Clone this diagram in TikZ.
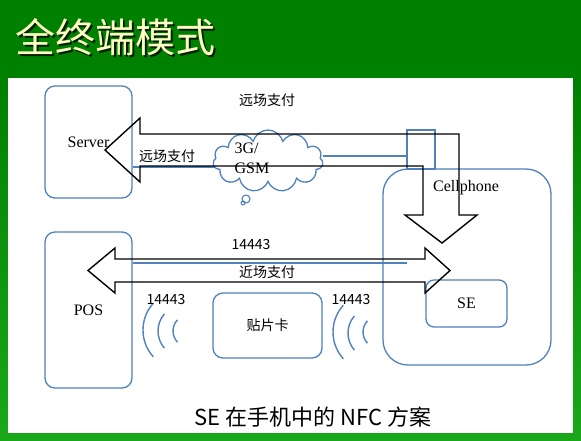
\documentclass[tikz,border=0pt]{standalone}
\usepackage{fontspec}
\setmainfont{Liberation Serif}
\newfontfamily\cjk{Noto Sans CJK SC}
\usetikzlibrary{shapes.symbols}
\definecolor{boxblue}{RGB}{79,129,189}
\definecolor{titlecream}{RGB}{255,255,196}
\definecolor{bgdark}{RGB}{0,128,0}
\definecolor{bglight}{RGB}{26,168,26}
\begin{document}
\begin{tikzpicture}[x=1pt,y=-1pt,
  box/.style={draw=boxblue,line width=1.3pt,rounded corners=10pt,inner sep=0pt},
  wire/.style={draw=boxblue,line width=1.3pt},
  blockarrow/.style={draw=black,line width=1.4pt,line join=miter},
  wave/.style={draw=boxblue,line width=1.4pt},
  latin/.style={font=\fontsize{16}{20}\selectfont},
  han/.style={font=\cjk\fontsize{14}{14}\selectfont}]
\useasboundingbox (0,0) rectangle (581,440);
% background and slide title
\fill[bgdark] (0,0) rectangle (581,440);
\shade[top color=bgdark,bottom color=bglight] (0,80) rectangle (581,440);
\fill[white] (8,78) rectangle (573,433);
\node[font=\cjk\fontsize{40}{40}\selectfont,text=titlecream] (title) at (115,38)
  {\makebox[0pt][l]{\hspace{2pt}\raisebox{-2pt}{\color{black!75!bgdark}全终端模式}}全终端模式};
% boxes
\node[box,latin,minimum width=87pt,minimum height=112pt] (server) at (88.5,142) {Server};
\node[box,latin,minimum width=87pt,minimum height=156pt] (pos) at (88.5,310) {POS};
\node[box,han,minimum width=109pt,minimum height=65pt] (card) at (267.5,325.5) {贴片卡};
\node[box,rounded corners=25pt,minimum width=168pt,minimum height=196pt] (phone) at (467,267) {};
\node[box,latin,rounded corners=8pt,minimum width=81pt,minimum height=47pt] (se) at (466.5,303.5) {SE};
\node[draw=boxblue,line width=1.3pt,inner sep=0pt,minimum width=28pt,minimum height=39pt] (antenna) at (421,149.5) {};
\coordinate (nfcend) at (407,263);
% links
\path[wire] (server.east |- 0,167) -- (253,167);
\path[wire] (323,156) -- (antenna.west |- 0,156);
\path[wire] (pos.east |- nfcend) -- (nfcend);
\node[cloud,cloud puffs=11,cloud ignores aspect,draw=boxblue,line width=1.3pt,fill=white,minimum width=110pt,minimum height=62pt] (net) at (268,161) {};
\node[circle,draw=boxblue,line width=1.1pt,inner sep=0pt,minimum size=8pt] (bubble) at (246,199) {};
\node[circle,draw=boxblue,line width=1pt,inner sep=0pt,minimum size=4pt] (dot) at (243,203) {};
% block arrows
\path[blockarrow] (140,134) -- (459,134) -- (459,215) -- (477,215) -- (442,243) -- (405,215)
  -- (423,215) -- (423,166) -- (140,166) -- (140,182) -- (105,150) -- (140,118) -- cycle;
\path[blockarrow] (115,259) -- (425,259) -- (425,248) -- (450,270.5) -- (425,293) -- (425,282)
  -- (115,282) -- (115,293) -- (88,270.5) -- (115,248) -- cycle;
% waves
\path[wave] (183,330) ++(138:40pt) arc[start angle=138,end angle=222,radius=40pt];
\path[wave] (184,331) ++(139:26pt) arc[start angle=139,end angle=221,radius=26pt];
\path[wave] (189,331) ++(136:16pt) arc[start angle=136,end angle=224,radius=16pt];
\path[wave] (373,332) ++(138:40pt) arc[start angle=138,end angle=222,radius=40pt];
\path[wave] (374,333) ++(139:26pt) arc[start angle=139,end angle=221,radius=26pt];
\path[wave] (379,332) ++(136:16pt) arc[start angle=136,end angle=224,radius=16pt];
% labels
\node[han] (farpay) at (267,100) {远场支付};
\node[han] (farpayin) at (167,156) {远场支付};
\node[latin,align=left] (gsm) at (252,158) {3G/\\GSM};
\node[latin] (phonename) at (466,188) {Cellphone};
\node[han] (nfcport) at (251,245) {14443};
\node[han] (nearpay) at (267,272) {近场支付};
\node[han] (portleft) at (166,300) {14443};
\node[han] (portright) at (351,300) {14443};
\node[font=\cjk\fontsize{22}{22}\selectfont] (caption) at (313,417) {SE 在手机中的 NFC 方案};
\end{tikzpicture}
\end{document}
